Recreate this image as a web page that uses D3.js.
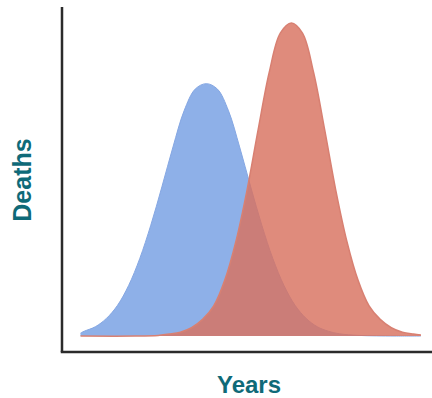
<!DOCTYPE html>
<html>
<head>
<meta charset="utf-8">
<script src="https://cdn.jsdelivr.net/npm/d3@7"></script>
<style>
  html, body { margin: 0; padding: 0; background: #ffffff; }
  svg { display: block; }
</style>
</head>
<body>
<svg id="chart" width="432" height="398"></svg>
<script>
// Data (relative units; no tick labels shown)
const blueYears  = [5, 6, 9, 12, 15, 18, 21, 24, 27, 30, 33, 36, 39, 42, 45, 48, 51, 54, 57, 60, 63, 66, 69, 72, 75, 80, 85, 90, 97];
const blueDeaths = [0.9, 1.5, 2.9, 5.5, 9.6, 15.8, 24.2, 34.7, 46.7, 59.2, 70.5, 77.3, 79, 77.3, 70.5, 59.2, 46.7, 34.7, 24.2, 15.8, 9.6, 5.5, 2.9, 1.5, 0.7, 0.2, 0.05, 0, 0];
const redYears   = [5, 20, 26, 29, 32, 35, 38, 41, 44, 47, 50, 53, 56, 59, 62, 65, 68, 71, 74, 77, 80, 83, 86, 89, 92, 95, 97];
const redDeaths  = [0, 0, 0.2, 0.6, 1.2, 2.6, 5.2, 9.4, 17.5, 29.6, 45.6, 64.5, 82.5, 94.8, 98, 94.8, 82.5, 64.5, 45.6, 29.6, 17.5, 9.4, 5.2, 2.6, 1.2, 0.6, 0.3];
const xLabel = "Years";
const yLabel = "Deaths";

const svg = d3.select("#chart");

const x = d3.scaleLinear().domain([0, 100]).range([62, 432]);
const y = d3.scaleLinear().domain([-5, 103]).range([352, 7]);

const blue = blueYears.map((v, i) => ({ x: v, y: blueDeaths[i] }));
const red  = redYears.map((v, i) => ({ x: v, y: redDeaths[i] }));

const area = d3.area()
  .x(d => x(d.x))
  .y0(y(0))
  .y1(d => y(d.y))
  .curve(d3.curveCatmullRom.alpha(0.5));

const line = d3.line()
  .x(d => x(d.x))
  .y(d => y(d.y))
  .curve(d3.curveCatmullRom.alpha(0.5));

// Blue series
svg.append("path")
  .datum(blue)
  .attr("d", area)
  .attr("fill", "#8eb0e8");
svg.append("path")
  .datum(blue)
  .attr("d", line)
  .attr("fill", "none")
  .attr("stroke", "#85a7e3")
  .attr("stroke-width", 1);

// Red series (semi-transparent over blue)
svg.append("path")
  .datum(red)
  .attr("d", area)
  .attr("fill", "rgb(216,114,95)")
  .attr("fill-opacity", 0.82);
svg.append("path")
  .datum(red)
  .attr("d", line)
  .attr("fill", "none")
  .attr("stroke", "#d88072")
  .attr("stroke-width", 1.5);

// Axes (plain lines, no ticks)
svg.append("line")
  .attr("x1", x(0)).attr("x2", x(0))
  .attr("y1", y(103)).attr("y2", y(-5))
  .attr("stroke", "#2b2b2b").attr("stroke-width", 2.5);
svg.append("line")
  .attr("x1", x(0) - 1.25).attr("x2", x(100))
  .attr("y1", y(-5)).attr("y2", y(-5))
  .attr("stroke", "#2b2b2b").attr("stroke-width", 2.5);

// Axis titles
svg.append("text")
  .attr("x", 249).attr("y", 393)
  .attr("text-anchor", "middle")
  .attr("font-family", "Liberation Sans, Arial, Helvetica, sans-serif")
  .attr("font-weight", "bold")
  .attr("font-size", 24)
  .attr("fill", "#0f6a78")
  .text(xLabel);

svg.append("text")
  .attr("transform", "translate(31,180) rotate(-90)")
  .attr("text-anchor", "middle")
  .attr("font-family", "Liberation Sans, Arial, Helvetica, sans-serif")
  .attr("font-weight", "bold")
  .attr("font-size", 25)
  .attr("fill", "#0f6a78")
  .text(yLabel);
</script>
</body>
</html>
